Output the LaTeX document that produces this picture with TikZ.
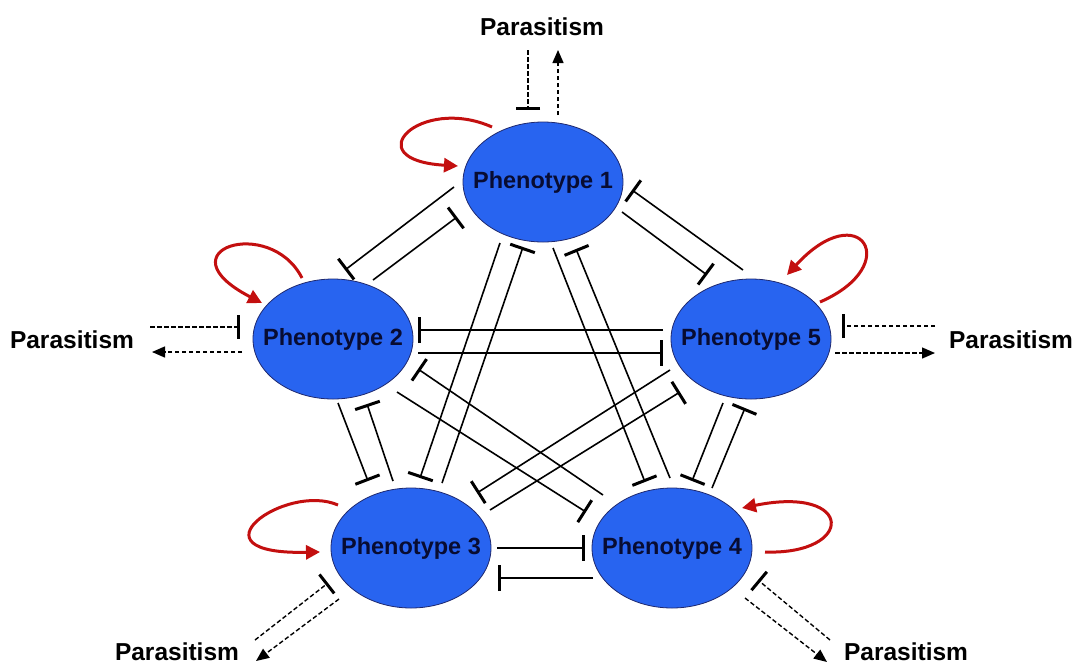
\documentclass[tikz,border=0pt]{standalone}
\usepackage{fontspec}
\setmainfont{Liberation Sans}
\usetikzlibrary{arrows.meta,calc,shapes.geometric}
\definecolor{pblue}{RGB}{40,100,240}
\definecolor{pedge}{RGB}{30,40,110}
\definecolor{ptext}{RGB}{8,12,50}
\definecolor{lred}{RGB}{195,15,15}
\newcommand\inhline[4]{\draw[inh] ($(#1)+#2$) -- ($(#3)+#4$);}
\begin{document}
\begin{tikzpicture}[x=1pt,y=-1pt,
  pheno/.style={ellipse, draw=pedge, line width=0.8pt, fill=pblue, minimum width=160pt, minimum height=120pt, inner sep=0pt, outer sep=0pt},
  phenotext/.style={font=\fontsize{23.5}{28}\selectfont\bfseries, text=ptext, inner sep=0pt},
  para/.style={font=\fontsize{24.5}{29}\selectfont\bfseries, text=black, inner sep=0pt},
  inh/.style={line width=1.6pt, -{Bar[width=26pt,line width=3pt]}},
  dinh/.style={line width=1.4pt, dash pattern=on 4.5pt off 2.5pt, -{Bar[width=24pt,line width=3pt]}},
  dact/.style={line width=1.4pt, dash pattern=on 4.5pt off 2.5pt, -{Triangle[length=13pt,width=11pt]}},
  selfloop/.style={line width=3pt, draw=lred, -{Triangle[length=14pt,width=14pt]}}
]
\useasboundingbox (0,0) rectangle (1078,665);

% phenotype nodes
\node[pheno, label={[phenotext]center:Phenotype 1}] (P1) at (543,182) {};
\node[pheno, label={[phenotext]center:Phenotype 2}] (P2) at (333,339) {};
\node[pheno, label={[phenotext]center:Phenotype 5}] (P5) at (751,339) {};
\node[pheno, label={[phenotext]center:Phenotype 3}] (P3) at (411,548) {};
\node[pheno, label={[phenotext]center:Phenotype 4}] (P4) at (672,548) {};

% parasitism labels
\node[para] (PT) at (542,27) {Parasitism};
\node[para] (PL) at (72,340) {Parasitism};
\node[para] (PR) at (1011,340) {Parasitism};
\node[para] (PBL) at (177,652) {Parasitism};
\node[para] (PBR) at (906,652) {Parasitism};

% mutual inhibition lines
\inhline{P1}{(-89,5)}{P2}{(12,-69)}
\inhline{P2}{(40,-59)}{P1}{(-86,35)}
\inhline{P5}{(-8,-69)}{P1}{(89,8)}
\inhline{P1}{(79,30)}{P5}{(-44,-64)}
\inhline{P5}{(-88,-9)}{P2}{(85,-9)}
\inhline{P2}{(85,14)}{P5}{(-88,14)}
\inhline{P2}{(5,64)}{P3}{(-43,-67)}
\inhline{P3}{(-18,-67)}{P2}{(34,65)}
\inhline{P1}{(-43,61)}{P3}{(9,-70)}
\inhline{P3}{(31,-65)}{P1}{(-20,65)}
\inhline{P1}{(10,66)}{P4}{(-27,-66)}
\inhline{P4}{(-2,-70)}{P1}{(33,67)}
\inhline{P5}{(-28,64)}{P4}{(20,-67)}
\inhline{P4}{(40,-60)}{P5}{(-6,69)}
\inhline{P5}{(-81,31)}{P3}{(66,-55)}
\inhline{P3}{(79,-38)}{P5}{(-71,53)}
\inhline{P4}{(-69,-53)}{P2}{(85,30)}
\inhline{P2}{(64,53)}{P4}{(-86,-36)}
\inhline{P3}{(86,0)}{P4}{(-87,0)}
\inhline{P4}{(-79,30)}{P3}{(87,30)}

% parasitism connectors
\draw[dinh] ($(PT)+(-14,23)$) -- ($(P1)+(-15,-72)$);
\draw[dact] ($(P1)+(15,-67)$) -- ($(PT)+(16,23)$);
\draw[dinh] ($(PL)+(78,-13)$) -- ($(P2)+(-93,-12)$);
\draw[dact] ($(P2)+(-91,13)$) -- ($(PL)+(80,12)$);
\draw[dinh] ($(PR)+(-76,-14)$) -- ($(P5)+(91,-13)$);
\draw[dact] ($(P5)+(84,14)$) -- ($(PR)+(-76,13)$);
\draw[dinh] ($(PBL)+(78,-12)$) -- ($(P3)+(-83,35)$);
\draw[dact] ($(P3)+(-72,51)$) -- ($(PBL)+(79,9)$);
\draw[dinh] ($(PBR)+(-76,-12)$) -- ($(P4)+(86,32)$);
\draw[dact] ($(P4)+(73,50)$) -- ($(PBR)+(-79,10)$);

% self activation loops
\draw[selfloop] ($(P1)+(-51,-55)$) .. controls ($(P1)+(-123,-87)$) and ($(P1)+(-188,-22)$) .. ($(P1)+(-85,-16)$);
\draw[selfloop] ($(P2)+(-31,-61)$) .. controls ($(P2)+(-63,-124)$) and ($(P2)+(-173,-89)$) .. ($(P2)+(-71,-36)$);
\draw[selfloop] ($(P5)+(69,-37)$) .. controls ($(P5)+(154,-74)$) and ($(P5)+(109,-144)$) .. ($(P5)+(36,-64)$);
\draw[selfloop] ($(P3)+(-73,-43)$) .. controls ($(P3)+(-126,-66)$) and ($(P3)+(-226,7)$) .. ($(P3)+(-91,4)$);
\draw[selfloop] ($(P4)+(93,4)$) .. controls ($(P4)+(183,7)$) and ($(P4)+(183,-63)$) .. ($(P4)+(70,-40)$);
\end{tikzpicture}
\end{document}
